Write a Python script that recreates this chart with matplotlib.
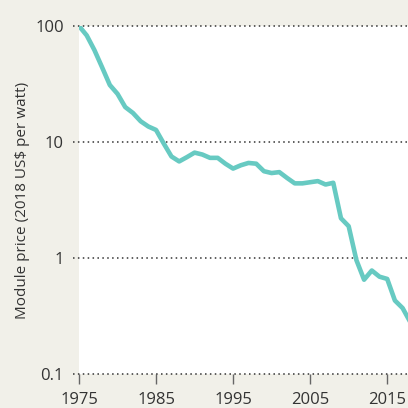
import matplotlib.pyplot as plt
import matplotlib.transforms as mtransforms

years = list(range(1975, 2019))
price = [100, 83, 62, 44, 31, 26, 20, 17.8, 15.1, 13.6, 12.7, 9.7, 7.5, 6.8,
         7.4, 8.1, 7.8, 7.3, 7.3, 6.5, 5.9, 6.3, 6.6, 6.5, 5.6, 5.4, 5.5, 4.9,
         4.4, 4.4, 4.5, 4.6, 4.3, 4.45, 2.2, 1.88, 0.96, 0.65, 0.78, 0.69,
         0.66, 0.43, 0.37, 0.28]
yticks = [0.1, 1, 10, 100]
ylabels = ["0.1", "1", "10", "100"]
xticks = [1975, 1985, 1995, 2005, 2015]

BG = "#f1f0e9"
LINE = "#67cac2"
TXT = "#333333"

plt.rcParams['font.family'] = ['Open Sans', 'DejaVu Sans']

fig = plt.figure(figsize=(4.08, 4.08), dpi=100, facecolor=BG)
ax = fig.add_axes([79/408, 1-374/408, 1-79/408, (374-26)/408])
ax.set_facecolor("white")

ax.plot(years, price, color=LINE, lw=3.3, zorder=3)
ax.set_yscale("log")
ax.set_ylim(0.1, 100)
ax.set_xlim(1975, 2017.7)

# dotted gridlines, poking out a little to the left of the plot
trans = mtransforms.blended_transform_factory(ax.transAxes, ax.transData)
for v in yticks:
    ax.plot([-0.018, 1], [v, v], transform=trans, color="#333333", lw=1.1,
            ls=(0, (1, 2.2)), clip_on=False, zorder=2)

for s in ax.spines.values():
    s.set_visible(False)

ax.set_yticks(yticks)
ax.set_yticklabels(ylabels)
ax.yaxis.set_minor_locator(plt.NullLocator())
ax.tick_params(axis="y", length=0, pad=11, labelsize=12, labelcolor=TXT)
ax.set_xticks(xticks)
ax.set_xticklabels([str(x) for x in xticks])
ax.tick_params(axis="x", length=7, width=1, color="#666666", direction="out",
               pad=6, labelsize=12, labelcolor=TXT)

ax.set_ylabel("Module price (2018 US$ per watt)", fontsize=11, color=TXT,
              labelpad=4)

fig.savefig("out.png", dpi=100, facecolor=BG)
